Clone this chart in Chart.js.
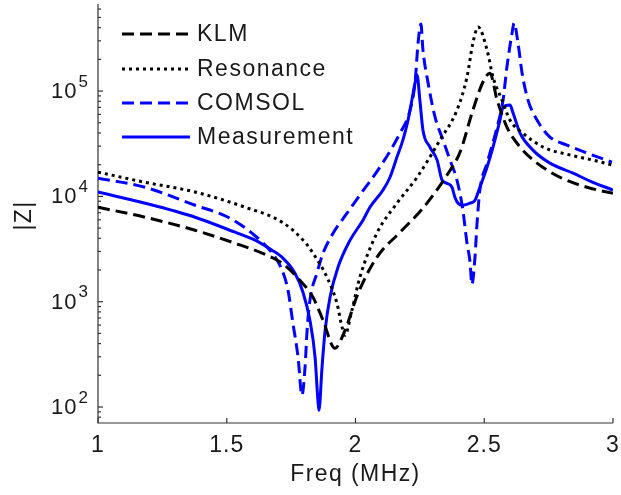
<!DOCTYPE html>
<html>
<head>
<meta charset="utf-8">
<title>|Z| vs Freq</title>
<script src="https://cdn.jsdelivr.net/npm/chart.js@4.4.1/dist/chart.umd.min.js"></script>
<style>
  html, body { margin: 0; padding: 0; background: #fff; }
  canvas { display: block; }
</style>
</head>
<body>
<canvas id="zChart" width="621" height="495"></canvas>
<script>
// Data (freq in MHz, |Z| in ohm)
const seriesNames = ["KLM", "Resonance", "COMSOL", "Measurement"];

const klmFreq = [1.000, 1.183, 1.377, 1.532, 1.637, 1.715, 1.784, 1.835, 1.874, 1.920, 1.959, 2.010, 2.083, 2.173, 2.262, 2.355, 2.406, 2.456, 2.495, 2.522, 2.550, 2.588, 2.639, 2.705, 2.794, 2.899, 3.000];
const klmZ = [7890, 6340, 4770, 3590, 2890, 2320, 1600, 1100, 666, 361, 534, 1200, 2640, 4570, 7730, 15900, 26300, 65900, 122000, 148000, 82100, 45500, 29400, 20700, 15200, 12200, 10700];

const resFreq = [1.000, 1.183, 1.377, 1.571, 1.715, 1.804, 1.835, 1.889, 1.928, 1.948, 1.959, 1.986, 2.017, 2.083, 2.161, 2.239, 2.328, 2.394, 2.433, 2.456, 2.476, 2.511, 2.534, 2.569, 2.600, 2.650, 2.728, 2.833, 2.922, 3.000];
const resZ = [17000, 13600, 11000, 7890, 5690, 3670, 2890, 1710, 966, 571, 480, 829, 1710, 4470, 8610, 15200, 34200, 65900, 136000, 286000, 406000, 245000, 136000, 82100, 53000, 39900, 29400, 24700, 22100, 19800];

const comsolFreq = [1.000, 1.183, 1.377, 1.505, 1.598, 1.676, 1.715, 1.738, 1.757, 1.777, 1.792, 1.804, 1.812, 1.823, 1.850, 1.874, 1.913, 1.967, 2.017, 2.095, 2.173, 2.212, 2.231, 2.243, 2.254, 2.262, 2.282, 2.309, 2.340, 2.367, 2.394, 2.417, 2.433, 2.445, 2.452, 2.464, 2.472, 2.483, 2.511, 2.550, 2.573, 2.588, 2.608, 2.616, 2.631, 2.647, 2.670, 2.705, 2.755, 2.821, 2.899, 2.996];
const comsolZ = [14900, 12200, 8240, 6340, 4470, 2890, 1990, 1280, 624, 296, 129, 238, 534, 1030, 1860, 2890, 4470, 6920, 10300, 19000, 39900, 65900, 119000, 286000, 434000, 245000, 119000, 56600, 34200, 22100, 14300, 7400, 3590, 2370, 1460, 2640, 5560, 11500, 20700, 45500, 82100, 169000, 356000, 443000, 286000, 148000, 82100, 53000, 36600, 30700, 25800, 21100];

const measFreq = [1.000, 1.183, 1.377, 1.532, 1.610, 1.676, 1.715, 1.765, 1.796, 1.823, 1.843, 1.854, 1.858, 1.870, 1.882, 1.901, 1.932, 1.979, 2.029, 2.056, 2.107, 2.134, 2.161, 2.184, 2.204, 2.219, 2.231, 2.239, 2.250, 2.262, 2.289, 2.317, 2.336, 2.355, 2.375, 2.386, 2.398, 2.417, 2.445, 2.464, 2.483, 2.511, 2.534, 2.561, 2.573, 2.600, 2.612, 2.639, 2.689, 2.755, 2.845, 2.922, 3.000];
const measZ = [11000, 8610, 6340, 4570, 3840, 3080, 2640, 1860, 1230, 666, 296, 116, 93, 238, 534, 1100, 2120, 3840, 5940, 7890, 11500, 15200, 23600, 34200, 53000, 82100, 119000, 142000, 82100, 42500, 29400, 22100, 14300, 13300, 12200, 9820, 8610, 8240, 8610, 9200, 12200, 19000, 29400, 53000, 70500, 73600, 61800, 39900, 27500, 20700, 16600, 13600, 11500];

const xTicks = [1, 1.5, 2, 2.5, 3];
const xTickLabels = ["1", "1.5", "2", "2.5", "3"];
const yTickExponents = [2, 3, 4, 5];

function toPoints(xs, ys) {
    return xs.map((x, i) => ({ x: x, y: ys[i] }));
}

const styles = [
    { color: "#000000", dash: [12, 6] },
    { color: "#000000", dash: [3, 4] },
    { color: "#0000ff", dash: [12, 6] },
    { color: "#0000ff", dash: [] }
];

const allData = [
    toPoints(klmFreq, klmZ),
    toPoints(resFreq, resZ),
    toPoints(comsolFreq, comsolZ),
    toPoints(measFreq, measZ)
];

const FONT = "Liberation Sans, Arial, sans-serif";
const TEXT = "#1a1a1a";
const AXIS = "#333333";

// axes, ticks, labels drawn from the chart's own scales
const axesPlugin = {
    id: "matlabAxes",
    beforeDatasetsDraw(chart) {
        const { ctx, chartArea: a, scales } = chart;
        const xs = scales.x, ys = scales.y;
        ctx.save();
        ctx.strokeStyle = AXIS;
        ctx.lineWidth = 1.2;
        ctx.beginPath();
        ctx.moveTo(a.left, a.top);
        ctx.lineTo(a.left, a.bottom);
        ctx.lineTo(a.right, a.bottom);
        ctx.stroke();

        // x ticks
        ctx.fillStyle = TEXT;
        ctx.font = "23px " + FONT;
        ctx.letterSpacing = "1px";
        ctx.textAlign = "center";
        ctx.textBaseline = "middle";
        xTicks.forEach((v, i) => {
            const px = xs.getPixelForValue(v);
            ctx.beginPath();
            ctx.moveTo(px, a.bottom);
            ctx.lineTo(px, a.bottom - 5);
            ctx.stroke();
            ctx.fillText(xTickLabels[i], px, a.bottom + 23);
        });

        // y minor ticks
        for (let e = 1; e <= 5; e++) {
            for (let k = 1; k <= 9; k++) {
                const v = k * Math.pow(10, e);
                if (v < ys.min || v > ys.max) continue;
                const py = ys.getPixelForValue(v);
                ctx.beginPath();
                ctx.moveTo(a.left, py);
                ctx.lineTo(a.left + (k === 1 ? 5 : 3), py);
                ctx.stroke();
            }
        }

        // y labels 10^n
        yTickExponents.forEach(e => {
            const py = ys.getPixelForValue(Math.pow(10, e));
            ctx.textAlign = "right";
            ctx.font = "17px " + FONT;
            ctx.letterSpacing = "0px";
            const supW = ctx.measureText(String(e)).width;
            ctx.fillText(String(e), a.left - 10, py - 9);
            ctx.font = "22px " + FONT;
            ctx.letterSpacing = "1px";
            ctx.fillText("10", a.left - 10 - supW - 1, py + 1);
        });

        // axis titles
        ctx.font = "23px " + FONT;
        ctx.letterSpacing = "1.4px";
        ctx.textAlign = "center";
        ctx.fillText("Freq (MHz)", (a.left + a.right) / 2, a.bottom + 52);
        ctx.translate(25, (a.top + a.bottom) / 2 + 2);
        ctx.rotate(-Math.PI / 2);
        ctx.fillText("|Z|", 0, 0);
        ctx.restore();
    },
    afterDraw(chart) {
        const { ctx } = chart;
        const rows = [34, 69, 103, 137];
        ctx.save();
        chart.data.datasets.forEach((ds, i) => {
            const y = rows[i];
            ctx.strokeStyle = ds.borderColor;
            ctx.lineWidth = ds.borderWidth;
            ctx.setLineDash(ds.borderDash);
            ctx.beginPath();
            ctx.moveTo(122, y);
            ctx.lineTo(190, y);
            ctx.stroke();
            ctx.setLineDash([]);
            ctx.fillStyle = TEXT;
            ctx.font = "23px " + FONT;
            ctx.letterSpacing = "1.5px";
            ctx.textAlign = "left";
            ctx.textBaseline = "middle";
            ctx.fillText(ds.label, 197, y + 1);
        });
        ctx.restore();
    }
};

const ctx = document.getElementById("zChart").getContext("2d");

new Chart(ctx, {
    type: "line",
    data: {
        datasets: seriesNames.map((name, i) => ({
            label: name,
            data: allData[i],
            borderColor: styles[i].color,
            borderDash: styles[i].dash,
            borderWidth: 3,
            pointRadius: 0,
            cubicInterpolationMode: "monotone",
            fill: false
        }))
    },
    options: {
        responsive: false,
        devicePixelRatio: 1,
        animation: false,
        layout: { padding: { left: 98, right: 8, top: 4, bottom: 72 } },
        plugins: {
            legend: { display: false },
            tooltip: { enabled: false }
        },
        scales: {
            x: { type: "linear", min: 1, max: 3, display: false },
            y: { type: "logarithmic", min: 70.5, max: 671000, display: false }
        }
    },
    plugins: [axesPlugin]
});
</script>
</body>
</html>
